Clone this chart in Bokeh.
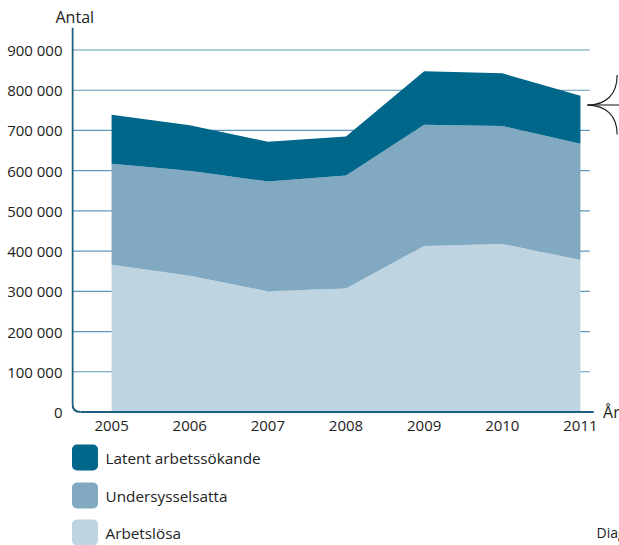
from bokeh.plotting import figure
from bokeh.models import ColumnDataSource, FixedTicker, Label
from bokeh.embed import file_html
from bokeh.resources import INLINE
from bokeh.core.properties import value

years = [2005, 2006, 2007, 2008, 2009, 2010, 2011]
arbetslosa = [366000, 339000, 300000, 307000, 413000, 418000, 378000]
undersysselsatta = [251000, 261000, 273000, 281000, 301000, 293000, 289000]
latent = [122000, 113000, 99000, 97000, 133000, 131000, 119000]
series_names = ["Latent arbetssökande", "Undersysselsatta", "Arbetslösa"]
y_ticks = [0, 100000, 200000, 300000, 400000, 500000, 600000, 700000, 800000, 900000]
y_tick_labels = ["0", "100 000", "200 000", "300 000", "400 000", "500 000",
                 "600 000", "700 000", "800 000", "900 000"]

DARK = "#00668a"
MID = "#81a9c2"
LIGHT = "#bed4e1"
AXIS = "#1d5f80"
GRID = "#5f97bb"
FONT = "Open Sans"
TEXT = "#222222"

src = ColumnDataSource(dict(year=years, arb=arbetslosa, und=undersysselsatta, lat=latent))

X0, X1 = 2004.487, 2011.5
p = figure(width=619, height=438, x_range=(X0, X1), y_range=(-31100, 956000),
           output_backend="svg", toolbar_location=None,
           min_border_left=71, min_border_right=0, min_border_top=27, min_border_bottom=14)
p.outline_line_color = None
p.background_fill_color = "white"
p.xgrid.visible = False
p.ygrid.visible = False

# title "Antal"
p.title.text = "Antal"
p.title.align = "left"
p.title.offset = -16
p.title.standoff = 0
p.title.text_font = FONT
p.title.text_font_size = "16px"
p.title.text_font_style = "normal"
p.title.text_color = TEXT

# grid lines (behind areas)
grid_vals = y_ticks[1:]
p.segment(x0=[2004.5] * len(grid_vals), x1=[2011.12] * len(grid_vals),
          y0=grid_vals, y1=grid_vals, line_color=GRID, line_width=1.2)

areas = p.varea_stack(stackers=["arb", "und", "lat"], x="year", color=[LIGHT, MID, DARK], source=src)

# axis lines with rounded corner
corner_dx = 0.102
corner_dy = 19900
p.segment(x0=[2004.5], x1=[2004.5], y0=[corner_dy], y1=[956000], line_color=AXIS, line_width=2)
p.quadratic(x0=[2004.5], y0=[corner_dy], x1=[2004.5 + corner_dx], y1=[0], cx=[2004.5], cy=[0],
            line_color=AXIS, line_width=2)
p.segment(x0=[2004.5 + corner_dx], x1=[2011.17], y0=[0], y1=[0], line_color=AXIS, line_width=2.2)

# axes
p.xaxis.ticker = FixedTicker(ticks=years)
p.xaxis.axis_line_color = None
p.xaxis.major_tick_line_color = None
p.xaxis.minor_tick_line_color = None
p.xaxis.major_tick_out = 0
p.xaxis.major_tick_in = 0
p.xaxis.major_label_standoff = -4
p.xaxis.major_label_text_font = FONT
p.xaxis.major_label_text_font_size = "15px"
p.xaxis.major_label_text_color = TEXT

p.yaxis.ticker = FixedTicker(ticks=y_ticks)
p.yaxis.major_label_overrides = {t: l for t, l in zip(y_ticks, y_tick_labels)}
p.yaxis.axis_line_color = None
p.yaxis.major_tick_line_color = None
p.yaxis.minor_tick_line_color = None
p.yaxis.major_tick_out = 0
p.yaxis.major_tick_in = 0
p.yaxis.major_label_standoff = 9
p.yaxis.major_label_text_baseline = "hanging"
p.yaxis.major_label_text_font = FONT
p.yaxis.major_label_text_font_size = "15px"
p.yaxis.major_label_text_color = TEXT

p.add_layout(Label(x=2011.29, y=0, text="År", text_font=FONT, text_font_size="16px",
                   text_color=TEXT, text_baseline="middle", text_align="left"))

# decorative bracket on the right
p.segment(x0=[2011.09], x1=[2011.5], y0=[763000], y1=[763000], line_color="#888888", line_width=2)
p.bezier(x0=[2011.09, 2011.09], y0=[763000, 763000], x1=[2011.47, 2011.47], y1=[838000, 690000],
         cx0=[2011.33, 2011.33], cy0=[763000, 763000], cx1=[2011.47, 2011.47], cy1=[790000, 736000],
         line_color="#222222", line_width=1.2)

# legend figure (pixel-like coordinates, y downwards)
lg = figure(width=619, height=107, x_range=(0, 619), y_range=(107, 0),
            output_backend="svg", toolbar_location=None,
            x_axis_location=None, y_axis_location=None,
            min_border_left=0, min_border_right=0, min_border_top=0, min_border_bottom=0)
lg.xgrid.visible = False
lg.ygrid.visible = False
lg.outline_line_color = None

colors = [DARK, MID, LIGHT]
tops = [6, 44, 81]
lg.quad(left=[71.5] * 3, right=[97.5] * 3, top=tops, bottom=[t + 26 for t in tops],
        fill_color=colors, line_color=None, border_radius=5)
lg.text(x=[105] * 3, y=[t + 13 for t in tops], text=series_names, text_font=value(FONT),
        text_font_size="15.3px", text_color=TEXT, text_baseline="middle")
lg.text(x=[596], y=[94], text=["Diagram"], text_font=value(FONT), text_font_size="14px",
        text_color=TEXT, text_baseline="middle")

open("out.html", "w").write(file_html([p, lg], INLINE))
